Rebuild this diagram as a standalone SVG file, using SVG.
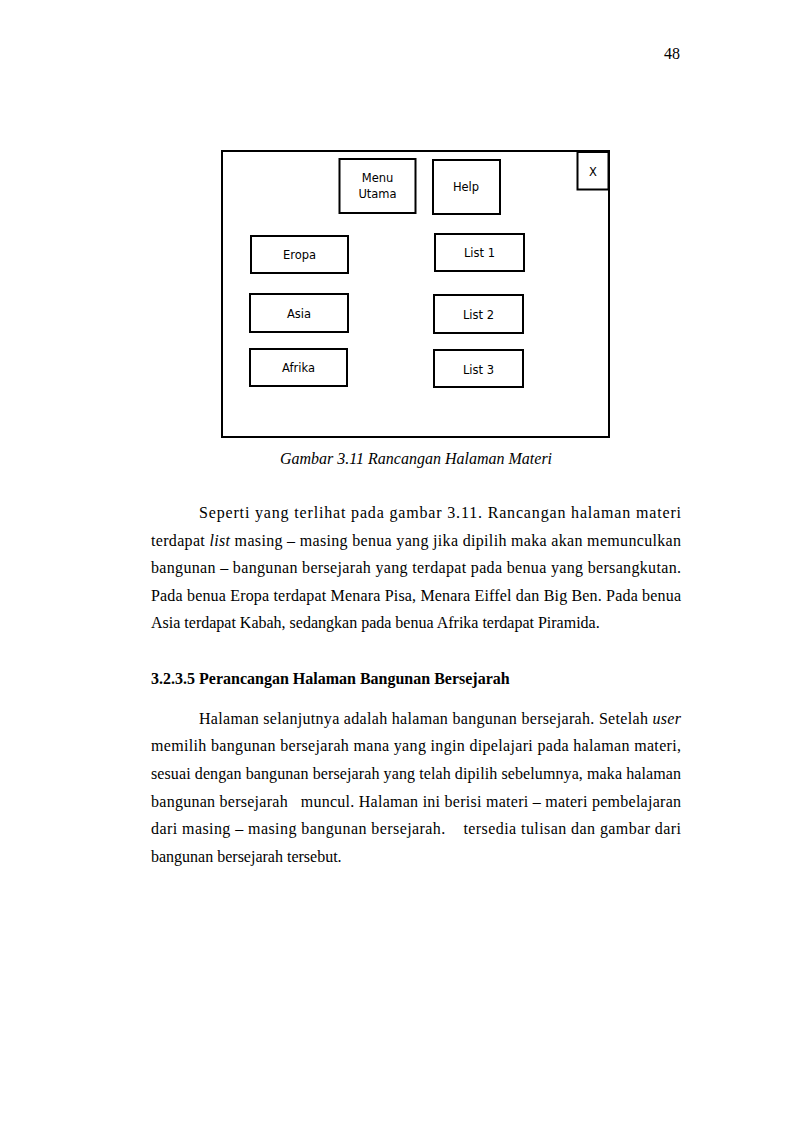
<svg xmlns="http://www.w3.org/2000/svg" width="794" height="1123" viewBox="0 0 794 1123">
<style>
.box{fill:#fff;stroke:#000;stroke-width:2}
.bt{font-family:"DejaVu Sans",Verdana,sans-serif;font-size:11.5px;text-anchor:middle;fill:#000}
.body{font-family:"Liberation Serif","Times New Roman",serif;font-size:16px;fill:#000}
.it{font-style:italic}
.hd{font-family:"Liberation Serif","Times New Roman",serif;font-size:16px;font-weight:bold;fill:#000}
</style>
<rect width="794" height="1123" fill="#fff"/>
<text class="body" x="680" y="59" text-anchor="end" font-size="14">48</text>
<g id="frame"><rect class="box" x="222" y="151" width="387" height="286"/></g>
<g id="menu-utama"><rect class="box" x="339.5" y="159" width="76" height="54"/><text class="bt" x="377.5" y="182">Menu</text><text class="bt" x="377.5" y="198">Utama</text></g>
<g id="help"><rect class="box" x="433" y="160" width="67" height="54"/><text class="bt" x="466" y="191">Help</text></g>
<g id="close"><rect class="box" x="577.5" y="152" width="31" height="37.5" stroke-width="2.5"/><text class="bt" x="593" y="176">X</text></g>
<g id="eropa"><rect class="box" x="251" y="236" width="97" height="37"/><text class="bt" x="299.5" y="259">Eropa</text></g>
<g id="asia"><rect class="box" x="250" y="294" width="98" height="38"/><text class="bt" x="299" y="318">Asia</text></g>
<g id="afrika"><rect class="box" x="250" y="349" width="97" height="37"/><text class="bt" x="298.5" y="372">Afrika</text></g>
<g id="list1"><rect class="box" x="435" y="234" width="89" height="37"/><text class="bt" x="479.5" y="257">List 1</text></g>
<g id="list2"><rect class="box" x="434" y="295" width="89" height="38"/><text class="bt" x="478.5" y="319">List 2</text></g>
<g id="list3"><rect class="box" x="434" y="350" width="89" height="37"/><text class="bt" x="478.5" y="374">List 3</text></g>
<g id="connectors"></g>
<text class="body it" x="416" y="464" text-anchor="middle" font-size="15.6">Gambar 3.11 Rancangan Halaman Materi</text>
<g id="para1">
<text class="body" x="199" y="518" textLength="482" lengthAdjust="spacing">Seperti yang terlihat pada gambar 3.11. Rancangan halaman materi</text>
<text class="body" x="151" y="546" textLength="530" lengthAdjust="spacing">terdapat <tspan class="it">list</tspan> masing – masing benua yang jika dipilih maka akan memunculkan</text>
<text class="body" x="151" y="573" textLength="530" lengthAdjust="spacing">bangunan – bangunan bersejarah yang terdapat pada benua yang bersangkutan.</text>
<text class="body" x="151" y="601" textLength="530" lengthAdjust="spacing">Pada benua Eropa terdapat Menara Pisa, Menara Eiffel dan Big Ben. Pada benua</text>
<text class="body" x="151" y="628">Asia terdapat Kabah, sedangkan pada benua Afrika terdapat Piramida.</text>
</g>
<text class="hd" x="151" y="684">3.2.3.5 Perancangan Halaman Bangunan Bersejarah</text>
<g id="para2">
<text class="body" x="199" y="724" textLength="482" lengthAdjust="spacing">Halaman selanjutnya adalah halaman bangunan bersejarah. Setelah <tspan class="it">user</tspan></text>
<text class="body" x="151" y="751" textLength="530" lengthAdjust="spacing">memilih bangunan bersejarah mana yang ingin dipelajari pada halaman materi,</text>
<text class="body" x="151" y="779" textLength="530" lengthAdjust="spacing">sesuai dengan bangunan bersejarah yang telah dipilih sebelumnya, maka halaman</text>
<text class="body" x="151" y="807" textLength="530" lengthAdjust="spacing" xml:space="preserve">bangunan bersejarah   muncul. Halaman ini berisi materi – materi pembelajaran</text>
<text class="body" x="151" y="834" textLength="530" lengthAdjust="spacing" xml:space="preserve">dari masing – masing bangunan bersejarah.    tersedia tulisan dan gambar dari</text>
<text class="body" x="151" y="862">bangunan bersejarah tersebut.</text>
</g>
</svg>
